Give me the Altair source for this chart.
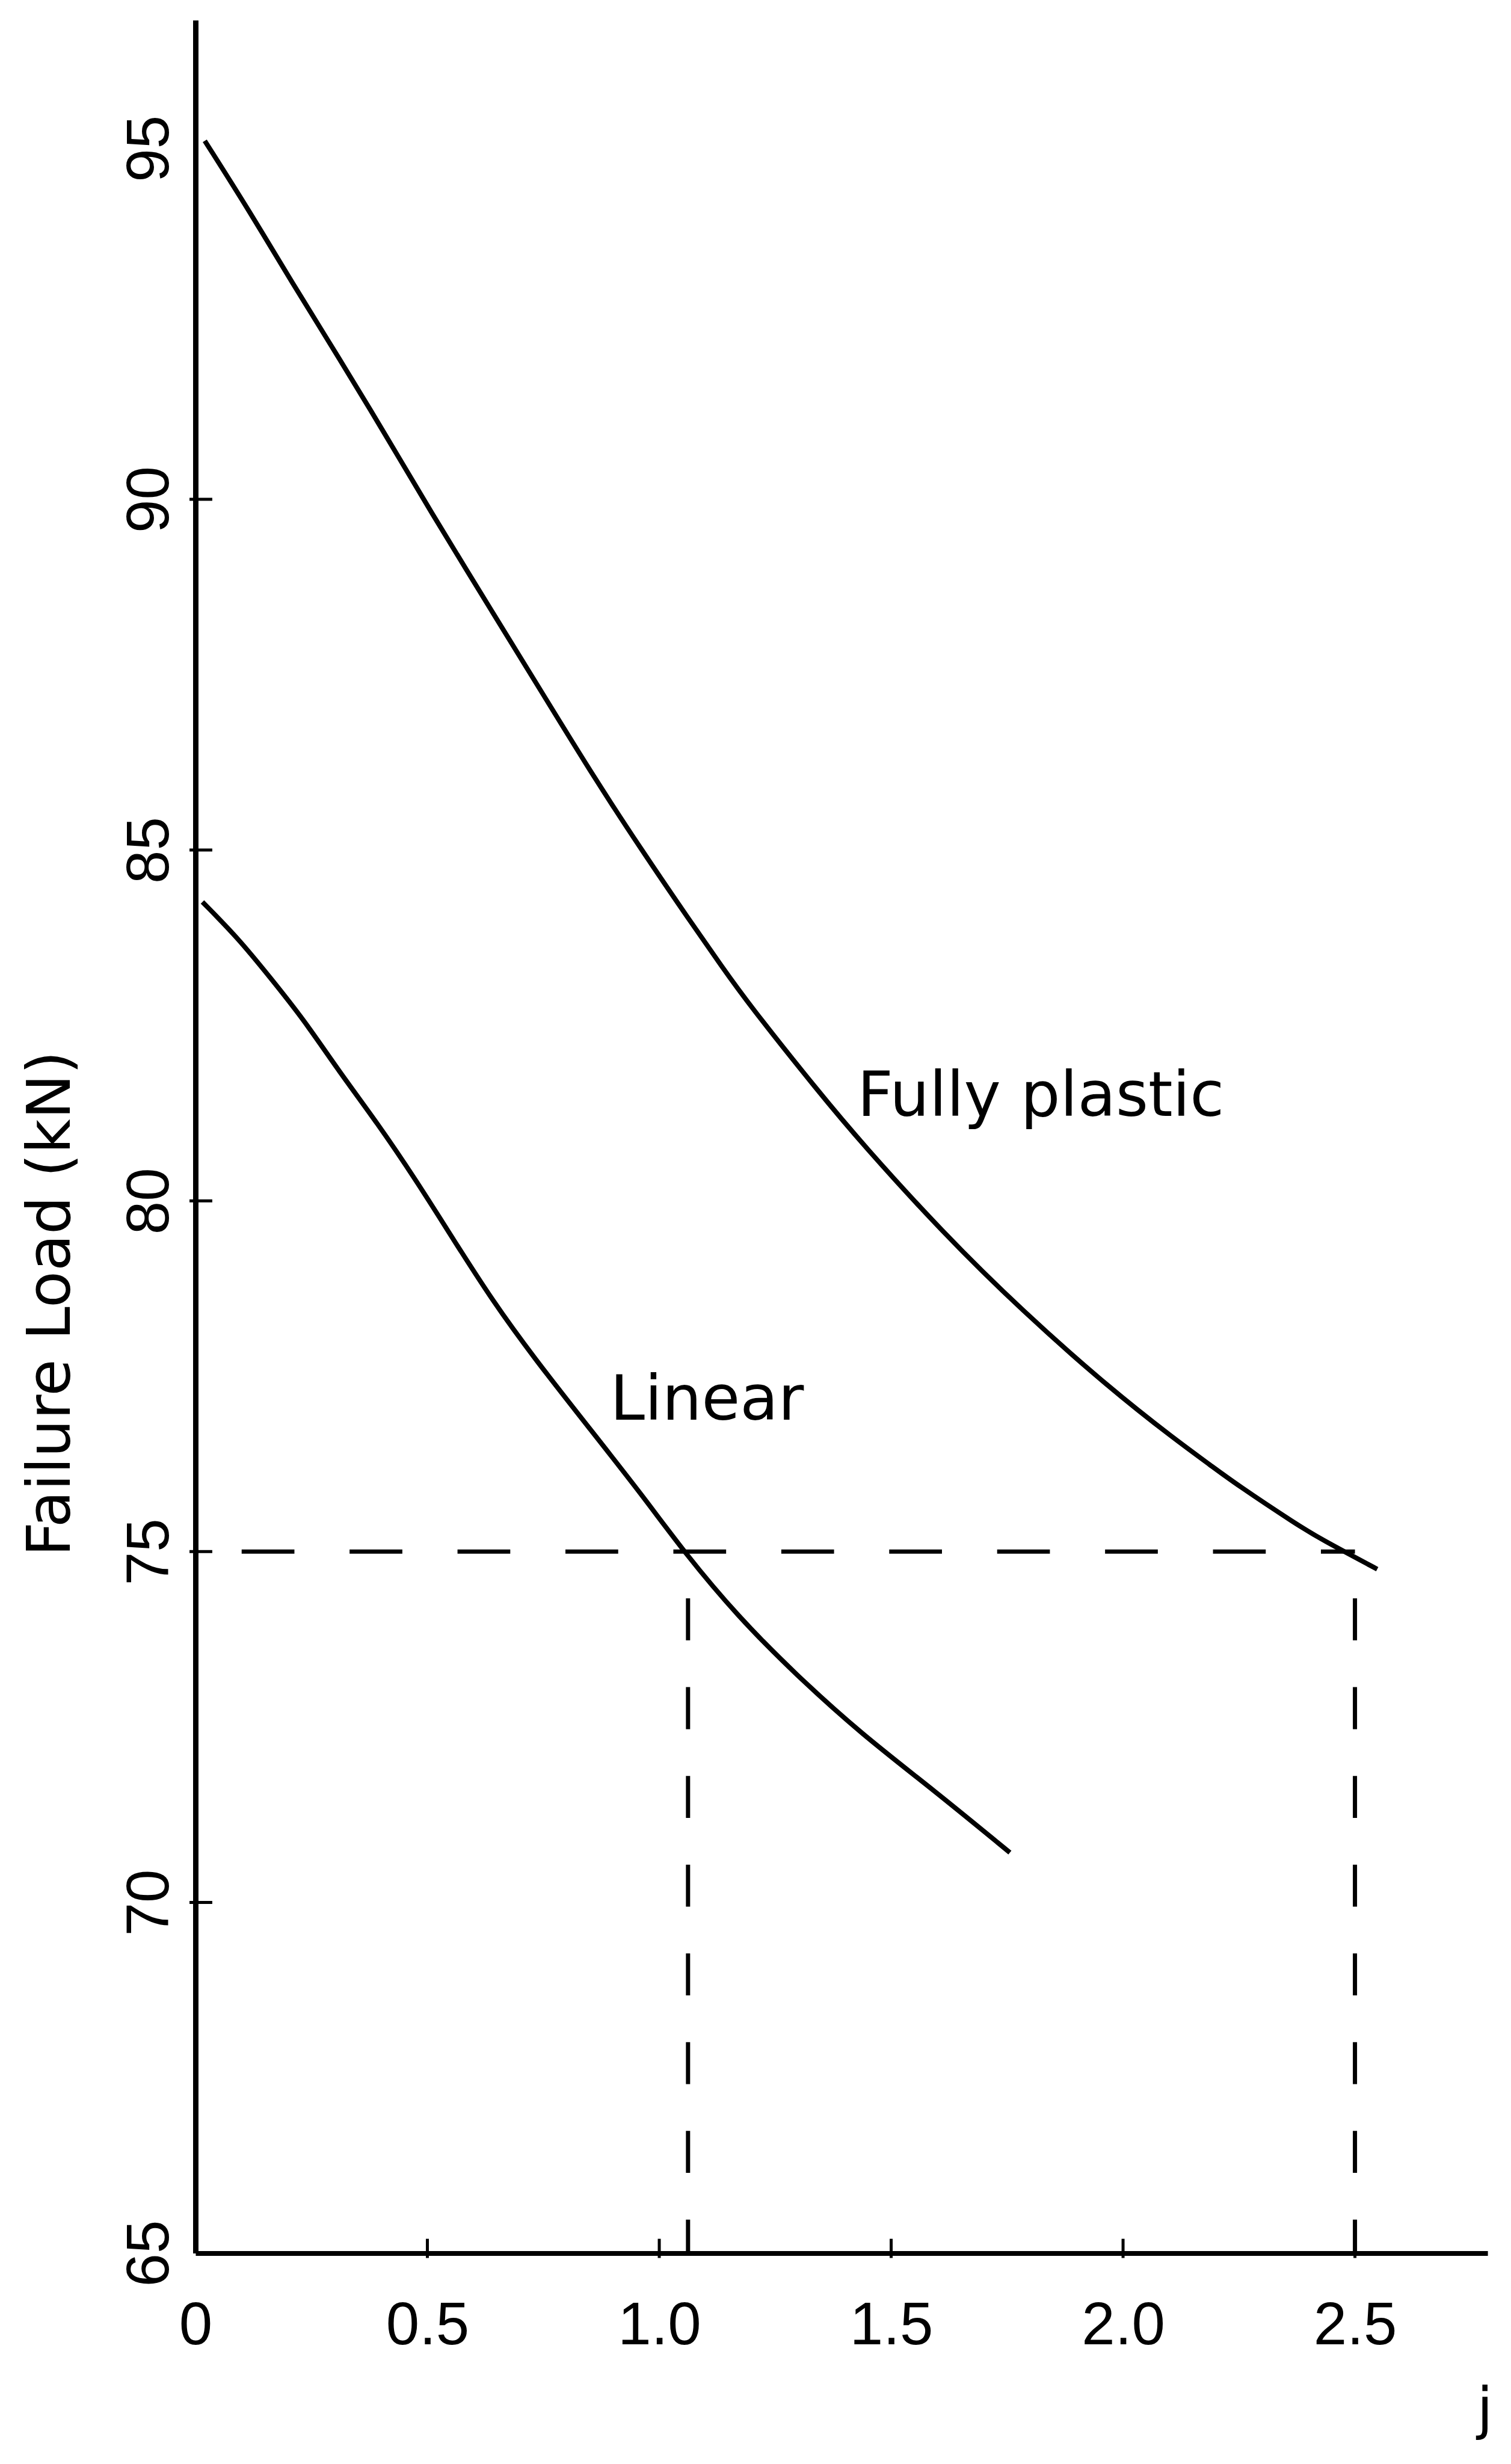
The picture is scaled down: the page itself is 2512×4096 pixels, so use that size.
import altair as alt
import pandas as pd

# ---- data ----
fp_j = [0.02, 0.118, 0.207, 0.310, 0.406, 0.502, 0.646, 0.756, 0.859, 0.962,
        1.065, 1.136, 1.191, 1.344, 1.438, 1.611, 1.783, 1.971, 2.112, 2.191,
        2.244, 2.376, 2.426, 2.548]
fp_load = [95.11, 94.09, 93.10, 92.01, 90.96, 89.88, 88.33, 87.15, 86.04, 85.00,
           84.00, 83.33, 82.82, 81.55, 80.81, 79.55, 78.43, 77.33, 76.60, 76.22,
           75.96, 75.38, 75.18, 74.75]
lin_j = [0.015, 0.091, 0.159, 0.235, 0.310, 0.392, 0.475, 0.557, 0.640, 0.729,
         0.848, 0.965, 1.055, 1.169, 1.294, 1.436, 1.592, 1.756]
lin_load = [84.26, 83.75, 83.20, 82.57, 81.84, 81.11, 80.30, 79.44, 78.58, 77.77,
            76.77, 75.79, 74.98, 74.08, 73.25, 72.40, 71.60, 70.71]
x_ticks = [0, 0.5, 1.0, 1.5, 2.0, 2.5]
y_ticks = [65, 70, 75, 80, 85, 90, 95]
x_inner_ticks = [0.5, 1.0, 1.5, 2.0, 2.5]
y_inner_ticks = [70, 75, 80, 85, 90]
ref_load = 75
lin_cross_j = 1.062
fp_cross_j = 2.5
labels = ["Fully plastic", "Linear"]
label_j = [1.427, 0.894]
label_load = [81.21, 76.88]

# ---- layout ----
W, H = 2155, 3724
NUM_FONT = "'Liberation Sans Narrow', 'Liberation Sans', sans-serif"
TXT_FONT = "DejaVu Sans"

xs = alt.Scale(domain=[0, 2.786], nice=False, zero=False)
ys = alt.Scale(domain=[65, 96.83], nice=False, zero=False)

xaxis = alt.Axis(
    values=x_ticks,
    labelExpr="datum.value == 0 ? '0' : format(datum.value, '.1f')",
    ticks=False, tickSize=0, grid=False,
    domainColor="black", domainWidth=8,
    labelFont=NUM_FONT, labelFontSize=100, labelColor="black",
    labelPadding=151, labelBaseline="alphabetic", labelAlign="center",
    labelFlush=False, labelOverlap=False,
    title="j", titleFont=TXT_FONT, titleFontSize=95, titleFontWeight="normal",
    titleColor="black", titleX=2150, titleY=291, titleAlign="center",
    titleBaseline="alphabetic", titleAngle=0,
)
yaxis = alt.Axis(
    values=y_ticks, format="d",
    ticks=False, tickSize=0, grid=False,
    domainColor="black", domainWidth=9,
    labelFont=NUM_FONT, labelFontSize=100, labelColor="black",
    labelAngle=270, labelAlign="center", labelBaseline="alphabetic",
    labelPadding=46, labelFlush=False, labelOverlap=False,
    title="Failure Load (kN)", titleFont=TXT_FONT, titleFontSize=100,
    titleFontWeight="normal", titleColor="black", titleAngle=270,
    titleX=-210, titleY=2140, titleAlign="center", titleBaseline="alphabetic",
)

X = alt.X("j:Q", scale=xs, axis=xaxis)
Y = alt.Y("load:Q", scale=ys, axis=yaxis)

curves = pd.concat([
    pd.DataFrame({"series": "Fully plastic", "j": fp_j, "load": fp_load}),
    pd.DataFrame({"series": "Linear", "j": lin_j, "load": lin_load}),
])

lines = alt.Chart(curves).mark_line(
    color="black", strokeWidth=8, interpolate="basis"
).encode(x=X, y=Y, detail="series:N")

hdash = alt.Chart(pd.DataFrame({"j": [0, fp_cross_j], "load": [ref_load, ref_load]})).mark_line(
    color="black", strokeWidth=7, strokeDash=[88, 92], strokeDashOffset=103
).encode(x=X, y=Y)

vdash_df = pd.DataFrame({
    "seg": ["a", "a", "b", "b"],
    "j": [lin_cross_j, lin_cross_j, fp_cross_j, fp_cross_j],
    "load": [ref_load, 65, ref_load, 65],
    "ord": [0, 1, 0, 1],
})
vdash = alt.Chart(vdash_df).mark_line(
    color="black", strokeWidth=7, strokeDash=[70, 78], strokeDashOffset=70
).encode(x=X, y=Y, detail="seg:N", order="ord:Q")

xt = alt.Chart(pd.DataFrame({"j": x_inner_ticks})).mark_rule(
    color="black", strokeWidth=5
).encode(x=X, y=alt.value(H + 8), y2=alt.value(H - 24))

yt = alt.Chart(pd.DataFrame({"load": y_inner_ticks})).mark_rule(
    color="black", strokeWidth=5
).encode(y=Y, x=alt.value(-10), x2=alt.value(28))

txt = alt.Chart(pd.DataFrame({"label": labels, "j": label_j, "load": label_load})).mark_text(
    align="left", baseline="alphabetic", font=TXT_FONT, fontSize=104, color="black"
).encode(x=X, y=Y, text="label:N")

chart = alt.layer(lines, hdash, vdash, xt, yt, txt).properties(
    width=W, height=H,
    padding={"left": 318, "top": 19, "right": 31, "bottom": 330},
    autosize="none",
    background="white",
).configure_view(strokeWidth=0)

chart.save("out.html", embed_options={"renderer": "svg", "actions": False})
